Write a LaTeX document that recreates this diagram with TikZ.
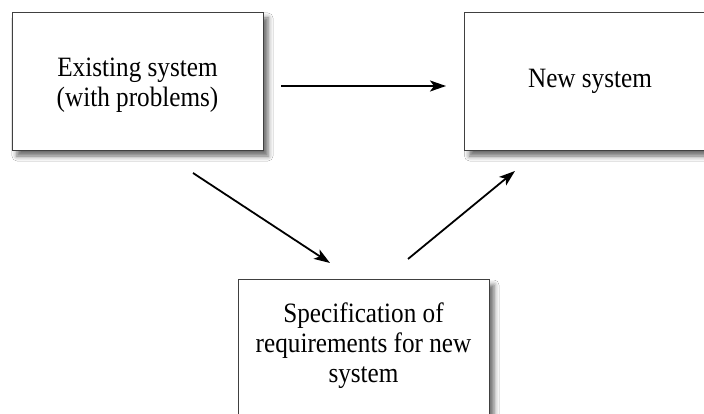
\documentclass[tikz,border=0pt]{standalone}
\usepackage{fontspec}
\setmainfont[FakeStretch=0.9]{Liberation Serif}
\usetikzlibrary{shadows.blur,arrows.meta}
\begin{document}
\begin{tikzpicture}[x=1pt,y=-1pt,
  sysbox/.style={draw=black!75, line width=0.9pt, fill=white, minimum width=251pt, minimum height=138pt,
    inner sep=0pt, align=center,
    font=\fontsize{28pt}{30pt}\selectfont,
    blur shadow={shadow xshift=5pt, shadow yshift=-6pt, shadow blur radius=5pt, shadow opacity=60}},
  flow/.style={line width=1.8pt, -{Stealth[length=16pt,width=11pt,inset=4pt]}}]
\clip (0,0) rectangle (704,414);
\fill[white] (0,0) rectangle (704,414);
\node[sysbox] (old) at (137.5,81) {\rule{0pt}{26pt}Existing system\\(with problems)};
\node[sysbox] (new) at (590,81) {New system};
\node[sysbox] (spec) at (363.5,348) {Specification of\\requirements for new\\system\rule[-10pt]{0pt}{0pt}};
\coordinate (h1) at (281,86);
\coordinate (h2) at (446,86);
\coordinate (d1) at (193,173);
\coordinate (d2) at (330,263);
\coordinate (u1) at (408,259);
\coordinate (u2) at (515,171);
\draw[flow] (h1) -- (h2);
\draw[flow] (d1) -- (d2);
\draw[flow] (u1) -- (u2);
\end{tikzpicture}
\end{document}
